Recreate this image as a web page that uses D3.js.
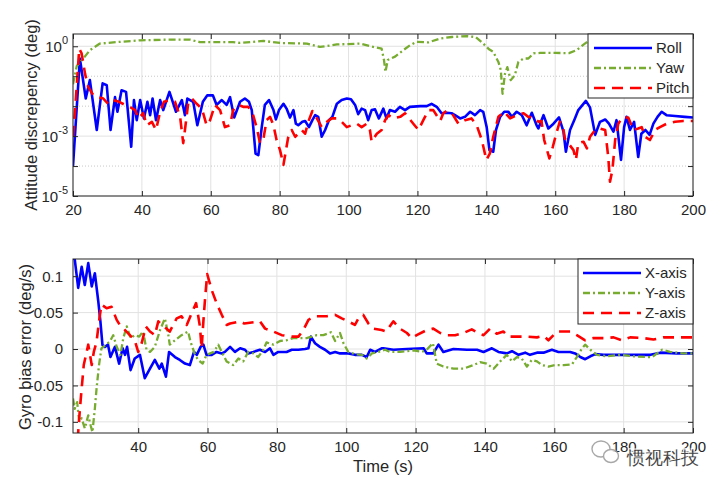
<!DOCTYPE html>
<html><head><meta charset="utf-8">
<script src="https://cdn.jsdelivr.net/npm/d3@7"></script>
<style>
body{margin:0;background:#fff;}
svg text{font-family:Arial,"Liberation Sans",sans-serif;fill:#262626;}
</style>
</head><body>
<svg id="c" width="721" height="486"></svg>
<script>
// ---------- DATA (top: attitude discrepancy, log scale) ----------
const roll = [[20,1e-4],[22,0.39],[23.7,1.8e-2],[24.9,7.4e-2],[26.9,1.6e-3],[28.6,5.8e-2],[29.8,5.0e-2],[30.9,1.6e-3],[32.2,2.0e-2],[32.9,6.5e-3],[34.1,3.4e-2],[35.4,3.0e-2],[36.9,4.4e-4],[37.7,1.6e-2],[38.5,3.4e-3],[39.5,1.6e-2],[40.6,3.9e-3],[41.6,1.4e-2],[42.4,5.0e-3],[43.1,1.8e-2],[44.1,3.4e-3],[45.3,1.6e-2],[46.2,7.4e-3],[48,3.0e-2],[49.9,6.5e-3],[51.6,1.6e-2],[52.5,5.0e-3],[53.2,1.8e-2],[54.9,1.4e-2],[56.1,2.3e-3],[57.7,1.4e-2],[59,2.3e-2],[60.6,2.3e-2],[61.7,1.1e-2],[63.2,1.6e-2],[64.6,1.1e-2],[65.6,2.0e-2],[66.8,4.2e-3],[68.5,1.4e-2],[69.9,1.8e-2],[71.1,1.4e-2],[71.9,7.4e-3],[73,2.6e-4],[73.8,2.3e-4],[74.8,2.0e-3],[75.7,1.1e-2],[76.9,1.6e-2],[78.2,7.4e-3],[78.9,3.6e-3],[79.8,7.4e-3],[81.1,1.2e-2],[82,8.3e-3],[83,4.2e-3],[84,7.4e-3],[84.7,2.6e-3],[85.4,2.3e-3],[86.6,3.0e-3],[87.4,3.2e-3],[88.5,2.0e-3],[89.5,3.4e-3],[90.3,5.0e-3],[91.2,4.4e-3],[92.2,9.5e-4],[93.2,1.6e-3],[94.3,3.4e-3],[95.3,4.4e-3],[96.6,1.2e-2],[98,1.6e-2],[99.5,1.8e-2],[100.7,1.7e-2],[101.9,1.1e-2],[102.8,5.4e-3],[103.8,8.3e-3],[104.8,7.4e-3],[105.7,3.4e-3],[106.7,7.4e-3],[107.7,7.8e-3],[108.8,3.9e-3],[110.1,8.3e-3],[111,3.9e-3],[112,7.4e-3],[113.5,6.5e-3],[114.9,9.5e-3],[116.4,7.4e-3],[117.8,9.5e-3],[120.8,1.0e-2],[122.7,1.0e-2],[124.1,1.2e-2],[125.6,9.5e-3],[127,5.8e-3],[128.5,6.0e-3],[129.9,5.8e-3],[130.9,5.0e-3],[132.4,3.9e-3],[133.8,4.4e-3],[135.3,6.5e-3],[136.7,5.0e-3],[138.2,7.4e-3],[139.1,6.5e-3],[140.1,2.0e-3],[140.9,3.4e-4],[142,3.0e-4],[142.8,1.6e-3],[144,4.4e-3],[145.2,6.5e-3],[146.4,6.5e-3],[147.4,4.4e-3],[148.8,6.5e-3],[150.3,5.0e-3],[151.7,2.3e-3],[153.2,6.0e-3],[154.6,2.3e-3],[155.1,1.8e-3],[156.6,5.0e-3],[158,1.8e-3],[159.5,2.6e-3],[161.1,4.2e-3],[162.4,1.4e-3],[163.1,3.0e-4],[164.3,1.6e-3],[165.6,3.6e-3],[166.7,7.4e-3],[168.9,1.5e-2],[170.1,9.1e-3],[171.6,1.1e-3],[173,3.0e-3],[174.5,3.6e-3],[175.6,2.6e-3],[176.9,1.4e-3],[177.8,3.4e-3],[179.1,1.6e-4],[180,2.0e-3],[180.7,4.4e-3],[181.7,1.6e-3],[182.9,3.0e-3],[184.1,2.0e-4],[185,1.2e-3],[186.2,1.6e-3],[187.4,1.1e-3],[188.5,2.6e-3],[189.7,4.4e-3],[190.9,6.5e-3],[192.3,5.0e-3],[194.8,4.7e-3],[197.6,4.4e-3],[200,4.2e-3]];
const yaw = [[20,5.4e-2],[21.1,0.22],[23,0.39],[24.9,0.74],[27.8,1.23],[32.6,1.38],[39.5,1.58],[47.2,1.66],[54,1.66],[56.8,1.38],[66.4,1.38],[68.5,1.29],[75.3,1.51],[80.1,1.29],[87.9,1.23],[91.7,0.95],[96.6,1.15],[103.3,1.23],[107.2,0.95],[109.6,0.83],[110.3,0.34],[110.7,0.14],[111.4,0.35],[113.5,0.45],[115.9,0.74],[117.8,1.07],[119.8,1.41],[123.2,1.35],[126.6,1.82],[130,2.04],[134.3,2.19],[136.9,2.04],[139.1,1.23],[140.8,0.79],[142,0.65],[143.5,0.30],[144.2,0.16],[144.7,0.026],[145.4,0.12],[146.1,0.20],[147.1,0.074],[148.3,0.11],[149.3,0.30],[150.8,0.39],[152.2,0.39],[153.7,0.58],[155.6,0.60],[160,0.60],[164,0.59],[166.2,0.74],[168.6,1.23],[170,1.58],[180,1.78],[190,1.6],[200,1.78]];
const pitch = [[20,9.5e-4],[20.6,7.4e-3],[21.2,7.4e-2],[21.8,0.83],[22.5,0.58],[23.5,0.12],[24.4,4.4e-2],[25.9,2.3e-2],[27.3,2.0e-2],[28.8,1.8e-2],[30.2,1.2e-2],[31.7,1.6e-2],[33.4,1.4e-2],[35.1,1.1e-2],[36.5,9.5e-3],[38,7.4e-3],[39,3.9e-3],[40.4,5.8e-3],[41.4,2.3e-3],[42.9,3.0e-3],[44.1,1.6e-3],[45.3,6.5e-3],[46.4,1.4e-2],[48.2,1.6e-2],[49.6,1.4e-2],[51.1,4.4e-3],[52,5.8e-4],[52.5,1.6e-3],[53.5,1.4e-2],[54.5,1.8e-2],[55.9,1.2e-2],[57.4,8.3e-3],[58.8,2.3e-3],[59.8,3.4e-3],[61.2,1.1e-2],[62.7,7.4e-3],[64.1,2.0e-3],[65.6,2.3e-3],[66.5,7.4e-3],[68,1.1e-2],[69.4,9.5e-3],[70.9,9.5e-3],[72.3,5.0e-3],[73.3,2.0e-3],[74.3,5.8e-4],[75.3,8.3e-4],[76.2,3.4e-3],[77.2,4.4e-3],[78.2,2.3e-3],[79.1,7.4e-4],[80.1,3.4e-4],[81.1,1.1e-4],[82.5,9.5e-4],[83.5,1.6e-3],[84.5,9.5e-4],[85.4,1.2e-3],[86.4,1.6e-3],[87.4,1.2e-3],[88.3,3.0e-3],[89.5,6.9e-3],[90.8,3.9e-3],[92.2,2.0e-3],[93.7,3.0e-3],[95.1,3.9e-3],[96.6,3.9e-3],[98,3.0e-3],[99.5,2.0e-3],[100.9,2.3e-3],[102.4,2.6e-3],[103.8,2.0e-3],[105.3,2.6e-3],[106.2,1.6e-3],[106.7,6.5e-4],[108.2,1.2e-3],[109.6,1.6e-3],[110.6,3.4e-3],[111.6,5.0e-3],[113,3.9e-3],[115,4.4e-3],[116.4,5.8e-3],[118.8,2.6e-3],[120.3,1.6e-3],[121.7,3.4e-3],[123.2,7.4e-3],[124.6,7.4e-3],[126.6,3.2e-3],[127.5,5.8e-3],[128.5,6.9e-3],[130,5.8e-3],[131.9,2.6e-3],[133.8,3.4e-3],[135.7,3.9e-3],[137.2,2.3e-3],[138.7,7.4e-4],[140,1.6e-4],[141,2.6e-4],[142,9.5e-4],[143.5,4.4e-3],[145.2,6.5e-3],[146.9,3.9e-3],[148.9,5.0e-3],[150.8,5.8e-3],[152.2,4.4e-3],[153.7,4.2e-3],[155.1,3.0e-3],[156,3.2e-3],[156.8,7.4e-4],[158.3,1.8e-4],[159.3,4.4e-4],[160.3,1.2e-3],[161.3,3.0e-3],[162.2,2.3e-3],[162.8,8.3e-4],[165.3,3.4e-4],[166,1.6e-4],[166.7,5.8e-4],[168.2,6.5e-4],[169.2,3.9e-4],[170.1,9.5e-4],[171.6,1.6e-3],[173,1.8e-3],[174.5,1.6e-3],[175.4,2.0e-4],[175.9,3.0e-5],[176.6,7.4e-5],[177.4,7.4e-4],[178.3,2.6e-3],[179.5,4.2e-3],[181.2,4.2e-3],[182.7,1.6e-3],[184.1,1.8e-3],[185.1,2.0e-3],[186.1,9.5e-4],[187.5,7.4e-4],[189,1.6e-3],[190.4,2.0e-3],[192.4,2.6e-3],[194.8,3.0e-3],[197.2,3.2e-3],[200,3.2e-3]];

// ---------- DATA (bottom: gyro bias error) ----------
const gyroX = [[21.2,0.125],[21.7,0.123],[22.7,0.084],[23.7,0.113],[24.6,0.088],[25.6,0.118],[26.6,0.086],[27.5,0.104],[28.5,0.065],[29.1,0.038],[29.7,0.0055],[30.4,0.003],[31.3,0.006],[32,-0.011],[33.3,0.003],[34.5,-0.02],[35.5,0.001],[36.2,-0.008],[36.8,0.003],[37.8,-0.029],[39,-0.013],[40.5,-0.008],[41.9,-0.04],[43.4,-0.027],[44.8,-0.015],[46.1,-0.027],[46.8,-0.02],[48,-0.038],[48.9,-0.004],[50.6,-0.011],[52,-0.015],[53.5,-0.02],[54.9,-0.022],[56.1,-0.004],[56.9,-0.008],[58,0.003],[58.8,0.006],[59.7,-0.008],[61.2,-0.008],[62.6,-0.004],[64.1,-0.006],[65,-0.004],[66.5,0.003],[67.9,-0.004],[69.4,0.001],[70.8,-0.001],[71.7,-0.006],[73.2,-0.004],[75.1,-0.001],[76.6,-0.004],[78,0.001],[79,-0.008],[80.4,-0.004],[82.8,-0.004],[84.3,-0.001],[86.2,-0.001],[88.1,0],[89.1,0.001],[89.8,0.017],[91,0.008],[92.4,0.003],[93.9,-0.001],[95.3,-0.006],[96.8,-0.004],[98.2,-0.006],[100.6,-0.006],[102.5,-0.008],[104.5,-0.008],[105.9,-0.011],[106.9,-0.001],[108.3,-0.004],[110.2,0.001],[110.7,0.001],[113.6,-0.001],[117.5,0],[122.3,0.001],[123.2,-0.006],[125.1,-0.006],[126.6,0.006],[128,-0.004],[130.9,0],[134.8,-0.001],[137.7,-0.001],[139.6,-0.004],[142,0.001],[143.9,-0.004],[146.3,-0.006],[147.8,-0.003],[149.7,-0.008],[151.6,-0.005],[153,-0.008],[155,-0.005],[156.9,-0.005],[159.3,-0.001],[161.2,-0.004],[164.6,-0.004],[166,-0.006],[167.5,-0.011],[168.9,-0.014],[170.4,-0.01],[171.8,-0.007],[174.2,-0.008],[177.1,-0.008],[181,-0.008],[183.8,-0.008],[187.7,-0.008],[190.6,-0.005],[195.4,-0.006],[200,-0.006]];
const gyroY = [[21.2,-0.068],[21.7,-0.082],[22.4,-0.073],[23,-0.1],[23.7,-0.095],[24.6,-0.109],[25.6,-0.091],[26.3,-0.105],[26.8,-0.114],[27.5,-0.082],[28,-0.054],[28.7,-0.022],[29.4,0.001],[30.7,0.006],[31.8,0.01],[32.8,0.019],[33.8,0.003],[34.9,-0.008],[35.7,0.015],[36.7,0.031],[37.8,0.015],[39,0.019],[40.3,0.017],[41.4,0.024],[42.4,-0.001],[43.4,-0.004],[44.8,0.003],[46.3,0.026],[47.7,0.042],[48.7,0.019],[49.1,0.006],[50.6,0.012],[52.5,0.019],[54.4,0.024],[55.1,0.01],[56.4,-0.008],[57.3,-0.015],[58.6,-0.02],[59.7,-0.008],[61.8,-0.004],[63.1,0.006],[64.1,-0.004],[65.5,-0.017],[67.4,-0.022],[68.9,-0.013],[70.3,-0.017],[71.7,-0.004],[73.2,-0.006],[74.6,-0.011],[76.1,-0.001],[77,0.009],[79,0.006],[80.9,0.011],[82.8,0.012],[84.7,0.015],[86.7,0.015],[88.6,0.015],[90,0.017],[91.5,0.019],[93.4,0.019],[95.6,0.023],[96.8,0.011],[98.2,0.022],[99.2,0.008],[100.6,-0.004],[102.5,-0.007],[104.5,-0.008],[105.9,-0.013],[107.4,-0.006],[109.3,-0.004],[111.2,-0.001],[112.6,-0.004],[115.5,-0.004],[119.4,-0.002],[121.8,-0.004],[123.2,-0.001],[125,0.008],[126.1,-0.02],[128,-0.024],[130.9,-0.027],[133.8,-0.027],[136.7,-0.022],[138.6,-0.018],[140.5,-0.02],[142.5,-0.027],[144.4,-0.017],[146.3,-0.008],[147.8,-0.017],[149.2,-0.011],[150.6,-0.013],[152.1,-0.024],[153.5,-0.015],[155,-0.017],[156.4,-0.022],[158.3,-0.024],[160.3,-0.022],[162.7,-0.022],[165.1,-0.021],[166.5,-0.011],[168,0.001],[168.9,0.006],[170.4,-0.001],[172.3,-0.008],[175.2,-0.01],[179,-0.008],[182.9,-0.01],[186.7,-0.011],[188.2,-0.011],[191.1,-0.001],[193.4,-0.004],[197.3,-0.006],[200,-0.006]];
const gyroZ = [[22.5,-0.125],[22.7,-0.114],[23.2,-0.082],[23.7,-0.054],[24.3,-0.022],[25.6,0.006],[26.6,-0.022],[27.2,-0.004],[28,0.01],[28.7,0.038],[29.4,0.061],[30.9,0.056],[32.3,0.058],[33.8,0.04],[34.7,0.033],[36.2,0.026],[37.6,0.019],[39,0.012],[40,-0.004],[41,0.008],[42.2,0.031],[43.4,0.024],[44.8,0.019],[45.8,0.038],[47.4,0.031],[49.1,0.024],[51.1,0.042],[52.5,0.045],[54,0.033],[55.4,0.049],[56.7,0.063],[57.8,0.031],[58.3,0.001],[58.8,0.038],[59.3,0.07],[59.9,0.103],[61.2,0.081],[62.6,0.063],[64.1,0.047],[65.5,0.033],[66.5,0.035],[69.4,0.038],[70.6,0.035],[75.1,0.038],[76.6,0.028],[79,0.024],[81.4,0.019],[84.3,0.017],[86.2,0.017],[87.6,0.026],[89.1,0.04],[91,0.045],[94.4,0.045],[96.8,0.047],[98.7,0.042],[100.6,0.038],[102.5,0.033],[103.5,0.042],[104.9,0.047],[106.4,0.035],[107.8,0.028],[110.2,0.026],[111.5,0.024],[113.6,0.038],[115.5,0.028],[117.5,0.022],[118.9,0.015],[120.3,0.019],[123.2,0.026],[125.1,0.028],[127.1,0.022],[129,0.019],[131.4,0.019],[133.8,0.022],[136.2,0.027],[138.1,0.022],[139.6,0.019],[141.5,0.028],[143.4,0.021],[145.3,0.024],[146.8,0.017],[149.7,0.017],[152.1,0.017],[155,0.016],[156.9,0.018],[158.3,0.012],[160.8,0.024],[162.7,0.024],[164.6,0.024],[166.5,0.019],[168.9,0.012],[171.3,0.015],[174.2,0.015],[177.1,0.016],[179.5,0.012],[181.9,0.016],[185.7,0.015],[188.6,0.013],[191.5,0.016],[195.4,0.016],[200,0.016]];

// ---------- TICKS / LABELS ----------
const topXTicks = [20,40,60,80,100,120,140,160,180,200];
const topYTicks = [1,1e-1,1e-2,1e-3,1e-4,1e-5];
const topYLabelled = [1,1e-3,1e-5];
const topYExp = ["0","-3","-5"];
const botXTicks = [40,60,80,100,120,140,160,180,200];
const botYTicks = [-0.1,-0.05,0,0.05,0.1];
const botYLabels = ["-0.1","-0.05","0","0.05","0.1"];
const topNames = ["Roll","Yaw","Pitch"];
const botNames = ["X-axis","Y-axis","Z-axis"];
const topTitle = "Attitude discrepency (deg)";
const botTitle = "Gyro bias error (deg/s)";
const xTitle = "Time (s)";
const watermark = "惯视科技";

// ---------- STYLE ----------
const BLUE="#0000ff", GREEN="#77ac30", RED="#ff0000", AX="#262626", GRID="#e2e2e2";
const styles = [
  {c:BLUE, w:2.6, dash:null},
  {c:GREEN, w:2.3, dash:"7,3,2,3"},
  {c:RED, w:2.6, dash:"11,7"}
];

const svg = d3.select("#c");
const L=73, R=693;
const boxT = {t:34, b:196}, boxB = {t:259, b:433};

const xT = d3.scaleLinear().domain([20,200]).range([L,R]);
const yT = d3.scaleLog().domain([1e-5, 2.57]).range([boxT.b, boxT.t]);
const xB = d3.scaleLinear().domain([21.2,200]).range([L,R]);
const yB = d3.scaleLinear().domain([-0.1153,0.1236]).range([boxB.b, boxB.t]);

const defs = svg.append("defs");
defs.append("clipPath").attr("id","clipT").append("rect").attr("x",L).attr("y",boxT.t).attr("width",R-L).attr("height",boxT.b-boxT.t);
defs.append("clipPath").attr("id","clipB").append("rect").attr("x",L).attr("y",boxB.t).attr("width",R-L).attr("height",boxB.b-boxB.t);

function panel(x, y, box, xticks, yticks, clip, series, names, legBox, isLog){
  const g = svg.append("g");
  g.append("g").selectAll("line").data(xticks).join("line")
    .attr("x1",d=>x(d)).attr("x2",d=>x(d)).attr("y1",box.t).attr("y2",box.b)
    .attr("stroke",GRID).attr("stroke-width",1);
  g.append("g").selectAll("line").data(yticks).join("line")
    .attr("x1",L).attr("x2",R).attr("y1",d=>y(d)).attr("y2",d=>y(d))
    .attr("stroke", d => (isLog && !topYLabelled.includes(d)) ? "#c8c8c8" : GRID)
    .attr("stroke-dasharray", d => (isLog && !topYLabelled.includes(d)) ? "1,2" : null)
    .attr("stroke-width",1);
  const lg = g.append("g").attr("clip-path",`url(#${clip})`);
  const line = d3.line().x(d=>x(d[0])).y(d=>y(d[1]));
  series.forEach((s,i)=>{
    lg.append("path").datum(s).attr("d",line).attr("fill","none")
      .attr("stroke",styles[i].c).attr("stroke-width",styles[i].w)
      .attr("stroke-dasharray",styles[i].dash).attr("stroke-linejoin","round");
  });
  g.append("rect").attr("x",L).attr("y",box.t).attr("width",R-L).attr("height",box.b-box.t)
    .attr("fill","none").attr("stroke",AX).attr("stroke-width",1);
  const ax = [
    g.append("g").attr("transform",`translate(0,${box.b})`).call(d3.axisBottom(x).tickValues(xticks).tickSize(-5).tickPadding(8).tickFormat(d3.format("d"))),
    g.append("g").attr("transform",`translate(0,${box.t})`).call(d3.axisTop(x).tickValues(xticks).tickSize(-5).tickFormat("")),
    g.append("g").attr("transform",`translate(${R},0)`).call(d3.axisRight(y).tickValues(yticks).tickSize(-5).tickFormat(""))
  ];
  const yl = g.append("g").attr("transform",`translate(${L},0)`)
    .call(d3.axisLeft(y).tickValues(yticks).tickSize(-5).tickPadding(isLog?5:10).tickFormat(isLog ? ()=>"" : (d,i)=>botYLabels[i]));
  ax.push(yl);
  ax.forEach(a=>{ a.select(".domain").remove(); a.selectAll(".tick line").attr("stroke",AX);
    a.selectAll("text").attr("font-size",15).attr("fill",AX).attr("font-family","Arial, 'Liberation Sans', sans-serif"); });
  if(isLog){
    yl.selectAll(".tick").filter(d=>topYLabelled.includes(d)).select("text").each(function(d){
      const t = d3.select(this).attr("dy",null).attr("y",5);
      t.append("tspan").text("10");
      t.append("tspan").attr("font-size",11).attr("dy",-8).text(topYExp[topYLabelled.indexOf(d)]);
    });
  }
  const lgd = svg.append("g");
  lgd.append("rect").attr("x",legBox.x0).attr("y",legBox.y0).attr("width",legBox.x1-legBox.x0).attr("height",legBox.y1-legBox.y0)
    .attr("fill","#fff").attr("stroke",AX).attr("stroke-width",1);
  names.forEach((n,i)=>{
    const yy = legBox.rows[i];
    lgd.append("line").attr("x1",legBox.l0).attr("x2",legBox.l1).attr("y1",yy).attr("y2",yy)
      .attr("stroke",styles[i].c).attr("stroke-width",styles[i].w).attr("stroke-dasharray",styles[i].dash);
    lgd.append("text").attr("x",legBox.tx).attr("y",yy).attr("dy","0.36em").attr("font-size",15).text(n);
  });
}

panel(xT, yT, boxT, topXTicks, topYTicks, "clipT", [roll,yaw,pitch], topNames,
  {x0:588,x1:693,y0:34,y1:98,rows:[48,68,88],l0:594,l1:652,tx:656}, true);
panel(xB, yB, boxB, botXTicks, botYTicks, "clipB", [gyroX,gyroY,gyroZ], botNames,
  {x0:578,x1:693,y0:259,y1:324,rows:[273,293,313],l0:583,l1:641,tx:645}, false);

svg.append("text").attr("transform","translate(37,115) rotate(-90)").attr("text-anchor","middle")
  .attr("font-size",16.5).text(topTitle);
svg.append("text").attr("transform","translate(31,347) rotate(-90)").attr("text-anchor","middle")
  .attr("font-size",16.5).text(botTitle);
svg.append("text").attr("x",383).attr("y",472).attr("text-anchor","middle").attr("font-size",16.5).text(xTitle);

const wm = svg.append("g").attr("opacity",0.85);
wm.append("ellipse").attr("cx",601).attr("cy",449).attr("rx",9).attr("ry",8).attr("fill","#fff").attr("stroke","#9a9a9a").attr("stroke-width",1.4);
wm.append("ellipse").attr("cx",611).attr("cy",456).attr("rx",7.5).attr("ry",6.5).attr("fill","#fff").attr("stroke","#9a9a9a").attr("stroke-width",1.4);
wm.append("text").attr("x",627).attr("y",464).attr("font-size",18).attr("font-family","'Noto Sans CJK SC',sans-serif")
  .attr("fill","#8a8a8a").attr("stroke","#fff").attr("stroke-width",2.5).attr("paint-order","stroke").text(watermark);
</script>
</body></html>
